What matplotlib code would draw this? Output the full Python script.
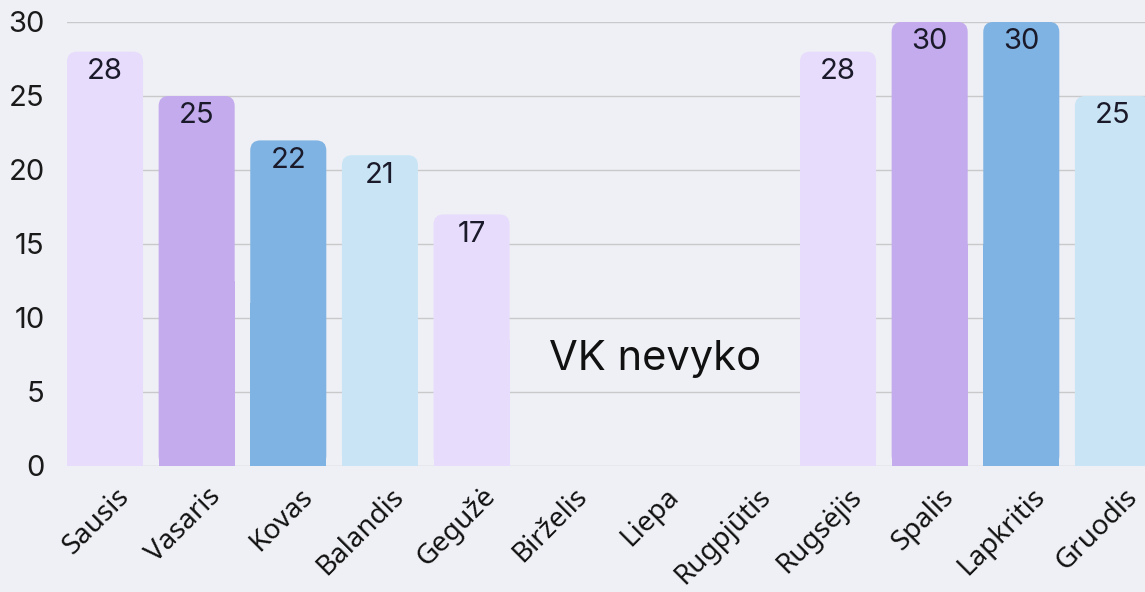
import matplotlib.pyplot as plt
import matplotlib.transforms as mtransforms
from matplotlib.patches import FancyBboxPatch, Rectangle
import numpy as np

months = ['Sausis', 'Vasaris', 'Kovas', 'Balandis', 'Gegužė', 'Birželis',
          'Liepa', 'Rugpjūtis', 'Rugsėjis', 'Spalis', 'Lapkritis', 'Gruodis']
values = [28, 25, 22, 21, 17, np.nan, np.nan, np.nan, 28, 30, 30, 25]
palette = ['#e8dcfd', '#c3abed', '#7fb3e3', '#c9e5f5']
note = 'VK nevyko'

bg = '#eff0f5'
fig = plt.figure(figsize=(11.45, 5.92), dpi=100, facecolor=bg)
ax = fig.add_axes([67 / 1145, 126 / 592, 1 - 67 / 1145, 444 / 592])
ax.set_facecolor(bg)

width = 0.83
rx, ry = 0.11, 0.68  # corner radius in data units (x, y)
x = np.arange(len(months))
for i, v in enumerate(values):
    if np.isnan(v):
        continue
    c = palette[i % 4]
    left = x[i] - width / 2
    # rounded top, square bottom
    ax.add_patch(FancyBboxPatch((left, 0), width, v,
                                boxstyle=f'round,pad=0,rounding_size={rx}',
                                mutation_aspect=ry / rx, fc=c, ec='none',
                                zorder=2, clip_on=False))
    ax.add_patch(Rectangle((left, 0), width, v / 2, fc=c, ec='none', zorder=2))
    ax.text(x[i], v - 1.35, f'{int(v)}', ha='center', va='center',
            fontsize=21, family='Inter', color='#1a1a2a', zorder=3)

ax.text(6, 7.2, note, ha='center', va='center', fontsize=30,
        family='Inter', color='#111111')

ax.set_xlim(-width / 2, 11.35)
ax.set_ylim(0, 30)
ax.set_yticks(range(0, 31, 5))
ax.yaxis.grid(True, color='#c9c9cc', linewidth=1)
ax.set_axisbelow(True)
for s in ax.spines.values():
    s.set_visible(False)
ax.tick_params(axis='both', length=0)
ax.tick_params(axis='y', pad=16, labelsize=21, labelcolor='#1a1a1a')
for lab in ax.get_yticklabels():
    lab.set_family('Inter')

ax.set_xticks(x)
ax.set_xticklabels(months, rotation=45, ha='right', rotation_mode='anchor',
                   fontsize=20, family='Noto Sans', color='#111111')
ax.tick_params(axis='x', pad=12)
shift = mtransforms.ScaledTranslation(10 / 100, 0, fig.dpi_scale_trans)
for lab in ax.get_xticklabels():
    lab.set_transform(lab.get_transform() + shift)

fig.savefig('out.png', dpi=100, facecolor=bg)
